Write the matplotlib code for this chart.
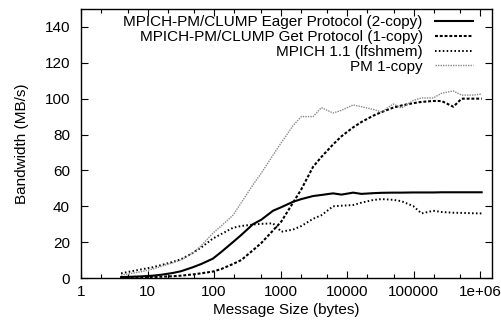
import matplotlib
matplotlib.use('Agg')
import matplotlib.pyplot as plt
from matplotlib.ticker import FixedLocator, FixedFormatter, NullFormatter

plt.rcParams['font.family'] = ['Liberation Sans', 'DejaVu Sans']
plt.rcParams['font.size'] = 11

# message sizes (bytes)
sizes = [4, 8, 12, 16, 24, 32, 48, 64, 96, 128, 192, 256, 384, 512, 768, 1024,
         1536, 2048, 3072, 4096, 6144, 8192, 12288, 16384, 24576, 32768, 49152,
         65536, 98304, 131072, 196608, 262144, 393216, 524288, 786432, 1048576]

# bandwidth (MB/s)
eager = [0.5, 0.9, 1.3, 1.8, 2.8, 3.8, 6.0, 7.8, 10.8, 14.5, 20.0, 24.0, 30.0,
         32.5, 37.5, 39.5, 42.5, 44.0, 45.7, 46.3, 47.2, 46.5, 47.6, 46.9, 47.3,
         47.5, 47.6, 47.6, 47.7, 47.7, 47.7, 47.8, 47.8, 47.8, 47.8, 47.8]
get = [0.2, 0.3, 0.5, 0.7, 1.0, 1.3, 2.0, 2.6, 3.6, 5.0, 7.8, 10.0, 15.5, 19.5,
       26.5, 31.5, 42.0, 49.5, 62.0, 67.5, 74.5, 79.0, 84.0, 87.0, 90.5, 92.5,
       95.0, 96.2, 97.5, 98.2, 98.7, 98.7, 95.5, 100.0, 100.0, 100.0]
lfshmem = [2.6, 4.8, 6.0, 7.2, 9.0, 10.5, 14.0, 17.0, 22.0, 24.5, 28.0, 29.0,
           29.8, 30.2, 30.5, 25.8, 27.0, 29.0, 33.0, 35.0, 40.0, 40.3, 40.7,
           42.0, 43.5, 44.0, 43.6, 42.8, 40.1, 36.0, 37.5, 36.8, 36.4, 36.3,
           36.1, 36.0]
pm = [1.6, 3.5, 5.0, 6.5, 8.5, 10.0, 14.0, 18.0, 25.0, 29.0, 35.0, 42.0, 52.0,
      58.5, 68.5, 75.5, 85.0, 90.0, 90.0, 95.0, 92.0, 93.5, 96.5, 95.5, 94.0,
      92.6, 97.0, 94.8, 99.0, 100.4, 100.4, 103.0, 104.3, 102.0, 102.0, 102.6]

labels = ['MPICH-PM/CLUMP Eager Protocol (2-copy)',
          'MPICH-PM/CLUMP Get Protocol (1-copy)',
          'MPICH 1.1 (lfshmem)',
          'PM 1-copy']

xticks = [1, 10, 100, 1000, 10000, 100000, 1000000]
xticklabels = ['1', '10', '100', '1000', '10000', '100000', '1e+06']
xminor = [m * 10 ** e for e in range(0, 7) for m in (2, 5)]
yticks = [0, 20, 40, 60, 80, 100, 120, 140]

fig = plt.figure(figsize=(5.02, 3.27), dpi=100)
ax = fig.add_axes([81 / 502, 1 - 278 / 327, 411 / 502, 269 / 327])

ax.plot(sizes, eager, color='black', lw=1.5, ls='-', label=labels[0])
ax.plot(sizes, get, color='black', lw=1.5, ls=(0, (1.4, 0.9)), label=labels[1])
ax.plot(sizes, lfshmem, color='black', lw=1.4, ls=(0, (0.8, 1.2)), label=labels[2])
ax.plot(sizes, pm, color='#888888', lw=1.0, ls=(0, (1, 0.8)), label=labels[3])

ax.set_xscale('log')
ax.set_xlim(1, 1.5e6)
ax.set_ylim(0, 150)
ax.xaxis.set_major_locator(FixedLocator(xticks))
ax.xaxis.set_major_formatter(FixedFormatter(xticklabels))
ax.xaxis.set_minor_locator(FixedLocator(xminor))
ax.xaxis.set_minor_formatter(NullFormatter())
ax.set_yticks(yticks)

ax.tick_params(which='both', direction='in', top=True, right=True, width=0.8)
ax.tick_params(which='major', length=5)
ax.tick_params(which='minor', length=3)
ax.tick_params(axis='x', pad=5)
ax.tick_params(axis='y', pad=8)
for s in ax.spines.values():
    s.set_linewidth(1.0)

ax.set_xlabel('Message Size (bytes)', labelpad=3)
ax.set_ylabel('Bandwidth (MB/s)', labelpad=11)

ax.legend(loc='upper right', bbox_to_anchor=(0.954, 0.976), frameon=False,
          markerfirst=False, handlelength=2.5, handletextpad=0.8,
          labelspacing=0.05, borderpad=0, borderaxespad=0, fontsize=11)

fig.savefig('out.png', dpi=100)
